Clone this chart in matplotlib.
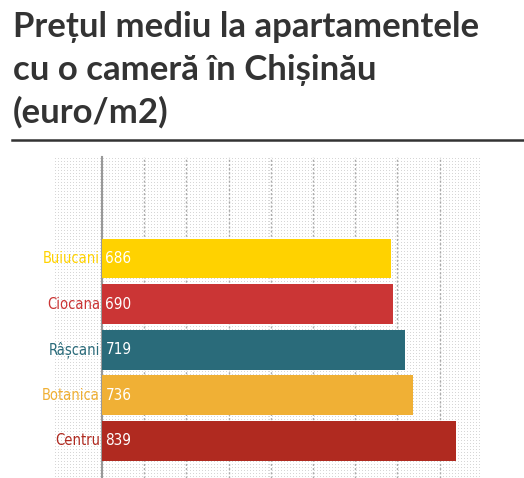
import numpy as np
import matplotlib
matplotlib.use("Agg")
import matplotlib.pyplot as plt
from matplotlib import font_manager

categories = ["Buiucani", "Ciocana", "Râșcani", "Botanica", "Centru"]
values = [686, 690, 719, 736, 839]
colors = ["#FFD200", "#CB3535", "#2A6B7A", "#F0B035", "#B02A20"]
title_lines = ["Prețul mediu la apartamentele", "cu o cameră în Chișinău", "(euro/m2)"]

W, H = 524, 478
fig = plt.figure(figsize=(W / 100, H / 100), dpi=100)

def fx(px):
    return px / W

def fy(py):
    return 1 - py / H

# dotted background
bx0, bx1, by0, by1 = 54, 481, 157, 478
bg = fig.add_axes([fx(bx0), fy(by1), fx(bx1 - bx0), (by1 - by0) / H])
pat = np.ones((by1 - by0, bx1 - bx0, 4))
pat[1::3, 1::3, :3] = 0.84
bg.imshow(pat, interpolation="nearest", aspect="auto")
bg.axis("off")

# main axes
ax0, ax1, ay0, ay1 = 102, 481, 157, 478
ax = fig.add_axes([fx(ax0), fy(ay1), fx(ax1 - ax0), (ay1 - ay0) / H])
ax.patch.set_alpha(0)
xmax = (ax1 - ax0) / 0.4219
ax.set_xlim(0, xmax)
step = 45.6
ylo = -(258.5 - ay0) / step
yhi = 4 + (ay1 - 441) / step
ax.set_ylim(yhi, ylo)
y = np.arange(len(categories))
ax.barh(y, values, height=0.875, color=colors, zorder=3)
for xv in range(100, 900, 100):
    ax.axvline(xv, color="#aaaaaa", lw=1, ls=(0, (1.5, 1.5)), zorder=2)
for s in ["top", "right", "bottom"]:
    ax.spines[s].set_visible(False)
ax.spines["left"].set_color("#999999")
ax.spines["left"].set_linewidth(1.5)
ax.set_xticks([])
ax.set_yticks([])
names = {f.name for f in font_manager.fontManager.ttflist}
lab_font = ["Liberation Sans Narrow"] if "Liberation Sans Narrow" in names else ["DejaVu Sans"]
for i, (c, v, col) in enumerate(zip(categories, values, colors)):
    ax.text(-5, i, c, ha="right", va="center", color=col, fontsize=10.5,
            family=lab_font, fontstretch="condensed")
    ax.text(8, i, str(v), ha="left", va="center", color="white", fontsize=11,
            family=lab_font, fontstretch="condensed", zorder=4)

# title
tfont = ["Lato", "DejaVu Sans"]
for line, base in zip(title_lines, [37, 80, 123]):
    fig.text(fx(13), fy(base), line, ha="left", va="baseline", fontsize=25,
             fontweight="bold", color="#333333", family=tfont)
fig.add_artist(plt.Line2D([fx(12), 1], [fy(139.5), fy(139.5)], color="#333333", lw=1.8))

fig.savefig("out.png", dpi=100)
